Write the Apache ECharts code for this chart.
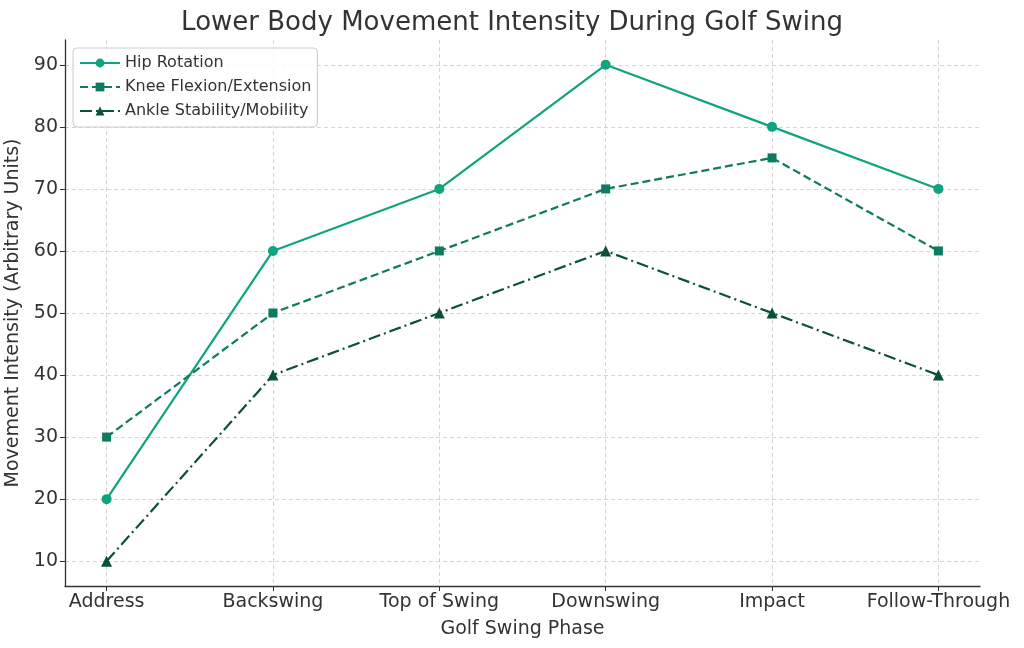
<!DOCTYPE html>
<html><head><meta charset="utf-8">
<script src="https://cdn.jsdelivr.net/npm/echarts@6/dist/echarts.min.js"></script>
<style>html,body{margin:0;padding:0;background:#fff}#c{width:1024px;height:648px}</style>
</head><body><div id="c"></div>
<script>
const categories = ["Address","Backswing","Top of Swing","Downswing","Impact","Follow-Through"];
const hipRotation = [20,60,70,90,80,70];
const kneeFlexion = [30,50,60,70,75,60];
const ankleStability = [10,40,50,60,50,40];
const yTicks = [10,20,30,40,50,60,70,80,90];

const font = "DejaVu Sans";
const chart = echarts.init(document.getElementById('c'), null, {renderer:'canvas'});
const toPts = arr => arr.map((v,i)=>[i,v]);
const xTicks = categories.map((_,i)=>i);
chart.setOption({
  animation:false,
  backgroundColor:'#fff',
  title:{text:'Lower Body Movement Intensity During Golf Swing',left:'center',top:5,
    textStyle:{fontFamily:font,fontSize:26,fontWeight:'normal',color:'#333'}},
  grid:{left:65,right:44,top:40,bottom:62,containLabel:false,outerBoundsMode:'none'},
  legend:{left:73,top:48,orient:'vertical',itemWidth:40,itemHeight:11,itemGap:8,
    padding:[7,6,8,6],borderColor:'#ccc',borderWidth:1,borderRadius:4,backgroundColor:'rgba(255,255,255,0.8)',
    textStyle:{fontFamily:font,fontSize:16,color:'#333',lineHeight:16},
    data:['Hip Rotation','Knee Flexion/Extension','Ankle Stability/Mobility']},
  xAxis:{type:'value',min:-0.25,max:5.25,
    name:'Golf Swing Phase',nameLocation:'middle',nameGap:34,
    nameTextStyle:{fontFamily:font,fontSize:19,color:'#333'},
    axisLine:{show:true,onZero:false,lineStyle:{color:'#333',width:1.3}},
    axisTick:{show:true,customValues:xTicks,length:5,lineStyle:{color:'#333'}},
    axisLabel:{customValues:xTicks,formatter:v=>categories[Math.round(v)],fontFamily:font,fontSize:19,color:'#333',margin:7},
    splitLine:{show:true,lineStyle:{color:'#ccc',type:[4,3],width:0.8}}},
  yAxis:{type:'value',min:6,max:94,
    name:'Movement Intensity (Arbitrary Units)',nameLocation:'middle',nameGap:39,
    nameTextStyle:{fontFamily:font,fontSize:19,color:'#333'},
    axisLine:{show:true,onZero:false,lineStyle:{color:'#333',width:1.3}},
    axisTick:{show:true,customValues:yTicks,length:5,lineStyle:{color:'#333'}},
    axisLabel:{customValues:yTicks,fontFamily:font,fontSize:19,color:'#333',margin:7},
    splitLine:{show:true,lineStyle:{color:'#ccc',type:[4,3],width:0.8}}},
  series:[
    {name:'Hip Rotation',type:'line',data:toPts(hipRotation),symbol:'circle',symbolSize:10,
      itemStyle:{color:'#10A37F'},lineStyle:{color:'#10A37F',width:2.2}},
    {name:'Knee Flexion/Extension',type:'line',data:toPts(kneeFlexion),symbol:'rect',symbolSize:9,
      itemStyle:{color:'#0E7A5F'},lineStyle:{color:'#0E7A5F',width:2.2,type:[8,4]}},
    {name:'Ankle Stability/Mobility',type:'line',data:toPts(ankleStability),symbol:'triangle',symbolSize:11,
      itemStyle:{color:'#0B4F3C'},lineStyle:{color:'#0B4F3C',width:2.2,type:[12,4,2,4]}}
  ]
});
</script></body></html>
